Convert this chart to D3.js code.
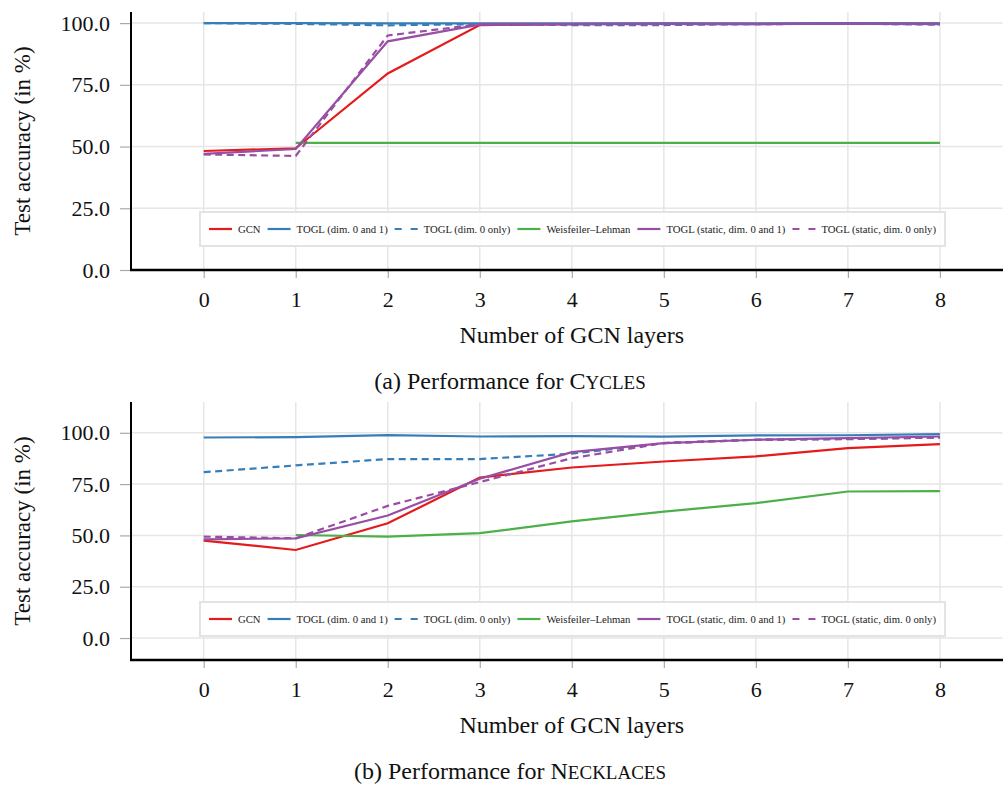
<!DOCTYPE html>
<html>
<head>
<meta charset="utf-8">
<script src="https://cdn.jsdelivr.net/npm/d3@7"></script>
<style>
  body { margin: 0; background: white; }
  svg { display: block; }
</style>
</head>
<body>
<div id="vis"></div>
<script>
// values (accuracy in %)
const layers = [0, 1, 2, 3, 4, 5, 6, 7, 8];
const yTicks = [0, 25, 50, 75, 100];

const seriesNames = ["GCN", "TOGL (dim. 0 and 1)", "TOGL (dim. 0 only)", "Weisfeiler–Lehman",
  "TOGL (static, dim. 0 and 1)", "TOGL (static, dim. 0 only)"];
const seriesColors = ["#e41a1c", "#377eb8", "#377eb8", "#4daf4a", "#984ea3", "#984ea3"];
const seriesDashed = [false, false, true, false, false, true];

// Cycles
const gcnCycles = [48.2, 49.3, 79.6, 99.2, 99.6, 99.8, 99.7, 99.8, 99.8];
const toglCycles = [100, 100, 99.9, 99.9, 99.9, 99.9, 99.9, 100, 99.9];
const toglDim0Cycles = [100, 99.7, 99.1, 99.6, 99.2, 99.2, 99.6, 99.8, 99.4];
const wlCycles = [null, 51.5, 51.5, 51.5, 51.5, 51.5, 51.5, 51.5, 51.5];
const toglStaticCycles = [47.0, 49.0, 92.6, 99.4, 99.6, 99.7, 99.6, 99.8, 99.7];
const toglStaticDim0Cycles = [46.8, 46.2, 95.0, 99.5, 99.6, 99.6, 99.6, 99.7, 99.5];

// Necklaces
const gcnNecklaces = [47.5, 42.9, 55.9, 78.2, 83.1, 86.0, 88.5, 92.5, 94.5];
const toglNecklaces = [97.7, 97.9, 98.9, 98.2, 98.4, 98.1, 98.7, 98.8, 99.3];
const toglDim0Necklaces = [80.8, 84.1, 87.2, 87.2, 89.8, 95.0, 96.6, 96.9, 97.7];
const wlNecklaces = [null, 50.2, 49.4, 51.1, 56.8, 61.6, 65.7, 71.4, 71.6];
const toglStaticNecklaces = [48.1, 48.6, 59.7, 77.6, 90.6, 95.0, 96.6, 97.4, 98.2];
const toglStaticDim0Necklaces = [49.4, 48.6, 64.4, 76.0, 87.6, 95.0, 96.6, 97.0, 97.7];

const width = 1003, height = 785;
const font = "'Liberation Serif', 'Times New Roman', serif";

const svg = d3.select("#vis")
  .append("svg")
    .attr("width", width)
    .attr("height", height)
    .attr("font-family", font);

const x = d3.scaleLinear()
    .domain([-0.79, 8.68])
    .range([131, 1002.5]);

panel({
  top: 12, bottom: 270, yDomain: [0, 104.5],
  series: [gcnCycles, toglCycles, toglDim0Cycles, wlCycles, toglStaticCycles, toglStaticDim0Cycles],
  legendTop: 212, caption: ["(a) Performance for ", "C", "YCLES"]
});

panel({
  top: 402, bottom: 660, yDomain: [-10.7, 115],
  series: [gcnNecklaces, toglNecklaces, toglDim0Necklaces, wlNecklaces, toglStaticNecklaces, toglStaticDim0Necklaces],
  legendTop: 602, caption: ["(b) Performance for ", "N", "ECKLACES"]
});

function panel(opt)
{
  const y = d3.scaleLinear()
      .domain(opt.yDomain)
      .range([opt.bottom, opt.top]);

  const [x0, x1] = x.range();
  const g = svg.append("g");

  // grid
  g.append("g")
    .selectAll("line")
    .data(layers)
    .join("line")
      .attr("x1", d => x(d)).attr("x2", d => x(d))
      .attr("y1", opt.top).attr("y2", opt.bottom)
      .attr("stroke", "#e6e6e6").attr("stroke-width", 1.5);

  g.append("g")
    .selectAll("line")
    .data(yTicks)
    .join("line")
      .attr("x1", x0).attr("x2", x1)
      .attr("y1", d => y(d)).attr("y2", d => y(d))
      .attr("stroke", "#e6e6e6").attr("stroke-width", 1.5);

  // axes
  const xAxis = g.append("g")
      .attr("transform", `translate(0,${opt.bottom})`)
      .call(d3.axisBottom(x).tickValues(layers).tickSize(8).tickPadding(13))
      .call(g => g.select(".domain").remove());
  xAxis.selectAll(".tick line").attr("stroke", "#aaa").attr("stroke-width", 1.2);
  xAxis.selectAll(".tick text")
      .attr("font-family", font).attr("font-size", 22).attr("fill", "#111");

  const yAxis = g.append("g")
      .attr("transform", `translate(${x0},0)`)
      .call(d3.axisLeft(y).tickValues(yTicks).tickFormat(d3.format(".1f")).tickSize(11).tickPadding(10))
      .call(g => g.select(".domain").remove());
  yAxis.selectAll(".tick line").attr("stroke", "#aaa").attr("stroke-width", 1.2);
  yAxis.selectAll(".tick text")
      .attr("font-family", font).attr("font-size", 22).attr("fill", "#111");

  // lines
  const line = d3.line()
      .defined(d => d != null)
      .x((d, i) => x(layers[i]))
      .y(d => y(d));

  g.append("g")
    .selectAll("path")
    .data(opt.series)
    .join("path")
      .attr("d", line)
      .attr("fill", "none")
      .attr("stroke", (d, i) => seriesColors[i])
      .attr("stroke-width", 2.2)
      .attr("stroke-dasharray", (d, i) => seriesDashed[i] ? "7,4.5" : null);

  // spines
  g.append("line")
      .attr("x1", x0).attr("x2", x0)
      .attr("y1", opt.top).attr("y2", opt.bottom + 1)
      .attr("stroke", "black").attr("stroke-width", 2);
  g.append("line")
      .attr("x1", x0 - 1).attr("x2", x1 + 1)
      .attr("y1", opt.bottom).attr("y2", opt.bottom)
      .attr("stroke", "black").attr("stroke-width", 2.5);

  // legend
  const leg = g.append("g").attr("transform", `translate(0,${opt.legendTop})`);
  leg.append("rect")
      .attr("x", 200).attr("y", 0)
      .attr("width", 745).attr("height", 34)
      .attr("fill", "white").attr("fill-opacity", 0.85)
      .attr("stroke", "#e3e3e3").attr("stroke-width", 2);

  let cx = 209;
  seriesNames.forEach((name, i) => {
    leg.append("line")
        .attr("x1", cx).attr("x2", cx + 23)
        .attr("y1", 17).attr("y2", 17)
        .attr("stroke", seriesColors[i])
        .attr("stroke-width", 2.2)
        .attr("stroke-dasharray", seriesDashed[i] ? "7,9" : null);
    const t = leg.append("text")
        .attr("x", cx + 29).attr("y", 17)
        .attr("dy", "0.35em")
        .attr("font-size", 10.7)
        .attr("fill", "#222")
        .text(name);
    cx += 29 + t.node().getComputedTextLength() + 7;
  });

  // titles
  g.append("text")
      .attr("x", x(4))
      .attr("y", opt.bottom + 73)
      .attr("text-anchor", "middle")
      .attr("font-size", 24)
      .attr("fill", "#111")
      .text("Number of GCN layers");

  g.append("text")
      .attr("transform", `translate(30,${(opt.top + opt.bottom) / 2}) rotate(-90)`)
      .attr("text-anchor", "middle")
      .attr("font-size", 23)
      .attr("fill", "#111")
      .text("Test accuracy (in %)");

  const cap = g.append("text")
      .attr("x", 510)
      .attr("y", opt.bottom + 119)
      .attr("text-anchor", "middle")
      .attr("font-size", 24)
      .attr("fill", "#111");
  cap.append("tspan").text(opt.caption[0]);
  cap.append("tspan").text(opt.caption[1]);
  cap.append("tspan").attr("font-size", 19).text(opt.caption[2]);
}
</script>
</body>
</html>
